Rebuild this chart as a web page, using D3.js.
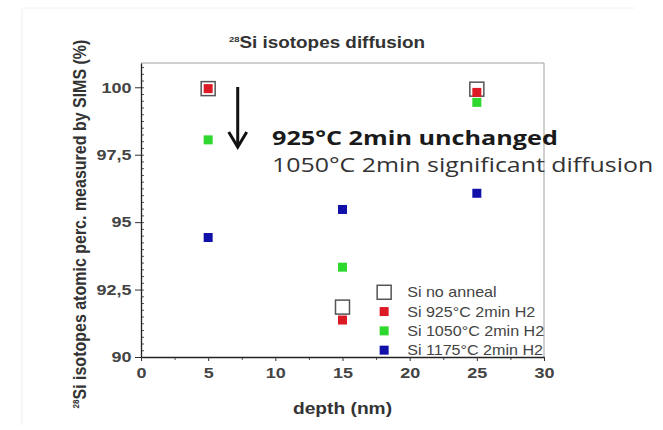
<!DOCTYPE html>
<html>
<head>
<meta charset="utf-8">
<script src="https://cdn.jsdelivr.net/npm/d3@7"></script>
<style>
  body { margin: 0; background: #fff; }
  svg { display: block; }
</style>
</head>
<body>
<div id="wrapper"></div>
<script>
var W = 663, H = 430;
var margin = {top: 63, right: 119, bottom: 73, left: 141};
var width = W - margin.left - margin.right;
var height = H - margin.top - margin.bottom;
var font = "Liberation Sans, Arial, sans-serif";

// depth (nm) of each SIMS measurement
var depths = [5, 15, 25];
var noAnneal = [99.95, 91.85, 99.93];
var si925 = [99.95, 91.37, 99.81];
var si1050 = [98.05, 93.33, 99.44];
var si1175 = [94.43, 95.47, 96.07];

var xTicks = [0, 5, 10, 15, 20, 25, 30];
var yTicks = [90, 92.5, 95, 97.5, 100];

var seriesNames = ["Si no anneal", "Si 925°C 2min H2", "Si 1050°C 2min H2", "Si 1175°C 2min H2"];
var seriesColors = ["none", "#dc1a26", "#2fd82f", "#1111aa"];
var seriesValues = [noAnneal, si925, si1050, si1175];

var svg = d3.select("#wrapper").append("svg")
  .attr("width", W)
  .attr("height", H);

// the source picture is a bit wider than tall, so text gets stretched sideways
function wideText(parent, px, py, sx) {
  return parent.append("g")
    .attr("transform", "translate(" + px + "," + py + ") scale(" + sx + ",1)")
    .append("text");
}

// faint frame of the original screenshot
svg.append("line").attr("x1", 22).attr("x2", 22).attr("y1", 8).attr("y2", 425)
  .attr("stroke", "#eeeeee");
svg.append("line").attr("x1", 22).attr("x2", 635).attr("y1", 8).attr("y2", 8)
  .attr("stroke", "#f2f2f2");

var g = svg.append("g")
  .attr("transform", "translate(" + margin.left + "," + margin.top + ")");

var x = d3.scaleLinear().domain([0, 30]).range([0, width]);
var y = d3.scaleLinear().domain([90, 100.9]).range([height, 0]);

// top and right frame (light)
g.append("line").attr("x1", 0).attr("x2", width).attr("y1", 0).attr("y2", 0)
  .attr("stroke", "#a0a0a0");
g.append("line").attr("x1", width).attr("x2", width).attr("y1", 0).attr("y2", height)
  .attr("stroke", "#a0a0a0");

// y axis: minor ticks inward, major outward
g.append("g")
  .call(d3.axisRight(y).tickValues(d3.range(90, 100.9, 0.25)).tickSize(3).tickFormat(""))
  .call(function(a) { a.select(".domain").remove(); })
  .selectAll("line").attr("stroke", "#555");

var yAxis = g.append("g")
  .call(d3.axisLeft(y).tickValues(yTicks).tickSize(6).tickSizeOuter(0).tickPadding(2)
    .tickFormat(function(d) { return String(d).replace(".", ","); }));
yAxis.select(".domain").attr("stroke", "#222").attr("stroke-width", 1.3);
yAxis.selectAll("line").attr("stroke", "#333");
yAxis.selectAll("text")
  .attr("transform", "scale(1.2,1)")
  .attr("font-family", font)
  .attr("font-size", 15).attr("font-weight", "bold").attr("fill", "#444");

// x axis
g.append("g")
  .attr("transform", "translate(0," + height + ")")
  .call(d3.axisBottom(x).tickValues(d3.range(2.5, 30, 5)).tickSize(3).tickFormat(""))
  .call(function(a) { a.select(".domain").remove(); })
  .selectAll("line").attr("stroke", "#555");

var xAxis = g.append("g")
  .attr("transform", "translate(0," + height + ")")
  .call(d3.axisBottom(x).tickValues(xTicks).tickSize(4).tickSizeOuter(0).tickPadding(6));
xAxis.select(".domain").attr("stroke", "#222").attr("stroke-width", 1.3);
xAxis.selectAll("line").attr("stroke", "#333");
xAxis.selectAll("text")
  .attr("transform", "scale(1.2,1)")
  .attr("font-family", font)
  .attr("font-size", 15).attr("font-weight", "bold").attr("fill", "#444");

// markers
seriesValues.forEach(function(vals, s) {
  var size = s === 0 ? 14 : 9;
  g.selectAll("rect.s" + s)
    .data(depths)
    .enter()
    .append("rect")
    .attr("class", "s" + s)
    .attr("x", function(d) { return x(d) - size / 2; })
    .attr("y", function(d, i) { return y(vals[i]) - size / 2; })
    .attr("width", size)
    .attr("height", size)
    .attr("fill", seriesColors[s])
    .attr("stroke", s === 0 ? "#555" : "none")
    .attr("stroke-width", 1.5);
});

// legend
var legend = g.append("g").attr("transform", "translate(" + (x(18.1)) + "," + (y(92.4)) + ")");
seriesNames.forEach(function(name, s) {
  var size = s === 0 ? 14 : 9;
  var row = legend.append("g").attr("transform", "translate(0," + (s * 19.3) + ")");
  row.append("rect")
    .attr("x", -size / 2).attr("y", -size / 2)
    .attr("width", size).attr("height", size)
    .attr("fill", seriesColors[s])
    .attr("stroke", s === 0 ? "#555" : "none")
    .attr("stroke-width", 1.5);
  wideText(row, 23, 5, 1.15)
    .attr("font-family", font)
    .attr("font-size", 14).attr("fill", "#444")
    .text(name);
});

// titles
wideText(svg, 327, 48, 1.18)
  .attr("text-anchor", "middle")
  .attr("font-family", font)
  .attr("font-size", 16).attr("font-weight", "bold").attr("fill", "#333")
  .call(function(t) {
    t.append("tspan").attr("font-size", 8).attr("dy", -6).text("28");
    t.append("tspan").attr("dy", 6).text("Si isotopes diffusion");
  });

wideText(svg, margin.left + x(15), 414, 1.13)
  .attr("text-anchor", "middle")
  .attr("font-family", font)
  .attr("font-size", 17).attr("font-weight", "bold").attr("fill", "#333")
  .text("depth (nm)");

svg.append("text")
  .attr("transform", "translate(86,224) scale(1.15,1) rotate(-90)")
  .attr("text-anchor", "middle")
  .attr("font-family", font)
  .attr("font-size", 16).attr("font-weight", "bold").attr("fill", "#333")
  .call(function(t) {
    t.append("tspan").attr("font-size", 8).attr("dy", -6).text("28");
    t.append("tspan").attr("dy", 6).text("Si isotopes atomic perc. measured by SIMS (%)");
  });

// annotation arrow and text
var ax = margin.left + x(7.2);
svg.append("line")
  .attr("x1", ax).attr("x2", ax).attr("y1", 87).attr("y2", 146)
  .attr("stroke", "#111").attr("stroke-width", 3);
svg.append("path")
  .attr("d", "M" + (ax - 9) + ",132 L" + ax + ",147 L" + (ax + 9) + ",132")
  .attr("fill", "none").attr("stroke", "#111").attr("stroke-width", 3);

wideText(svg, 272, 145, 1.26)
  .attr("font-family", "Open Sans, sans-serif")
  .attr("font-size", 20).attr("font-weight", "bold").attr("fill", "#1a1a1a")
  .text("925°C 2min unchanged");
wideText(svg, 272, 172, 1.245)
  .attr("font-family", "Open Sans, sans-serif")
  .attr("font-size", 20).attr("fill", "#333")
  .text("1050°C 2min significant diffusion");
</script>
</body>
</html>
